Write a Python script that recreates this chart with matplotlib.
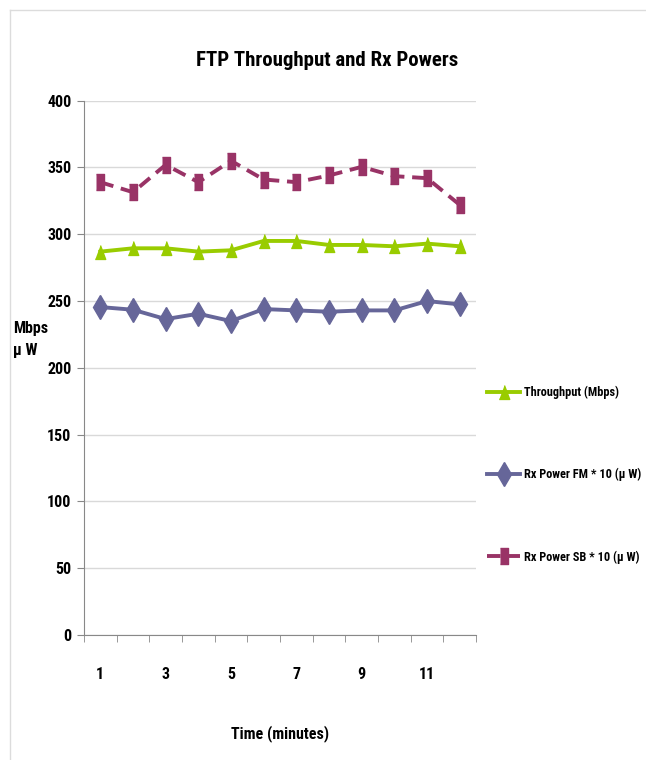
import os
import matplotlib
matplotlib.use("Agg")
import matplotlib.pyplot as plt
from matplotlib import font_manager as fm
from matplotlib.ticker import FixedLocator, NullFormatter
from matplotlib.lines import Line2D

# prefer the narrowest bold font that is installed
prefs = ['LiberationSansNarrow-Bold.', 'NotoSans-ExtraCondensedBold.', 'NotoSans-CondensedBold.',
         'RobotoCondensed-Bold.', 'OpenSans-CondBold.', 'OpenSans_Condensed-Bold.',
         'DejaVuSansCondensed-Bold.']
files = [f.fname for f in fm.fontManager.ttflist]
chosen = None
for p in prefs:
    hit = [f for f in files if os.path.basename(f).startswith(p)]
    if hit:
        chosen = hit[0]
        break
if chosen:
    fp = fm.FontProperties(fname=chosen)
else:
    fp = fm.FontProperties(family='DejaVu Sans', weight='bold', stretch='condensed')

def F(size):
    p = fp.copy()
    p.set_size(size)
    return p

minutes = [1, 2, 3, 4, 5, 6, 7, 8, 9, 10, 11, 12]
throughput = [287, 289.5, 289.5, 287, 288, 295, 295, 292, 292, 291, 293, 291]
rx_fm = [245.5, 243.5, 236.5, 240.5, 235, 244, 243, 242, 243, 243, 250, 247.5]
rx_sb = [339, 331.5, 352, 339, 355, 341, 339, 344, 350.5, 343.5, 342, 322]
xtick_labels = ['1', '3', '5', '7', '9', '11']
ytick_values = [0, 50, 100, 150, 200, 250, 300, 350, 400]

green = '#99CC00'
blue = '#666699'
maroon = '#993366'

tri = [(-0.75, -1), (0.75, -1), (0, 1)]
rect = [(-0.5, -1), (0.5, -1), (0.5, 1), (-0.5, 1)]

fig = plt.figure(figsize=(6.46, 7.6), dpi=100)
# chart-area border (top and left edges visible)
bx, by = 9.5 / 646, 1 - 9.5 / 760
fig.add_artist(Line2D([bx, 1], [by, by], transform=fig.transFigure, color='#dcdcdc', lw=1))
fig.add_artist(Line2D([bx, bx], [0, by], transform=fig.transFigure, color='#dcdcdc', lw=1))

ax = fig.add_axes([0.130, 0.1645, 0.607, 0.703])

ax.plot(minutes, throughput, color=green, lw=2.8, marker=tri, markersize=10,
        label='Throughput (Mbps)')
ax.plot(minutes, rx_fm, color=blue, lw=2.8, marker='d', markersize=12.5,
        label='Rx Power FM * 10 (\u00b5 W)')
ax.plot(minutes, rx_sb, color=maroon, lw=2.8, ls=(0, (3.5, 2)), marker=rect, markersize=11.5,
        label='Rx Power SB * 10 (\u00b5 W)')

ax.set_xlim(0.5, 12.5)
ax.set_ylim(0, 400)
ax.set_yticks(ytick_values)
ax.set_yticklabels([str(v) for v in ytick_values], fontproperties=F(11.5))
ax.set_xticks([1, 3, 5, 7, 9, 11])
ax.set_xticklabels(xtick_labels, fontproperties=F(11.5))
ax.tick_params(axis='x', which='major', length=0, pad=23)
ax.xaxis.set_minor_locator(FixedLocator([x + 0.5 for x in range(0, 13)]))
ax.xaxis.set_minor_formatter(NullFormatter())
ax.tick_params(axis='x', which='minor', length=5, color='#888888')
ax.tick_params(axis='y', length=5, color='#888888', pad=4)
ax.grid(axis='y', color='#d9d9d9', lw=1)
ax.set_axisbelow(True)
for s in ['top', 'right']:
    ax.spines[s].set_visible(False)
for s in ['left', 'bottom']:
    ax.spines[s].set_color('#888888')

fig.text(0.507, 0.920, 'FTP Throughput and Rx Powers', ha='center', va='center',
         fontproperties=F(15))
fig.text(0.020, 0.553, 'Mbps\n\u00b5 W', ha='left', va='center', fontproperties=F(11.5),
         linespacing=1.6)
fig.text(0.433, 0.035, 'Time (minutes)', ha='center', va='center', fontproperties=F(11.5))

leg = ax.legend(loc='center left', bbox_to_anchor=(1.028, 0.30), frameon=False,
                borderaxespad=0, borderpad=0,
                labelspacing=5.65, handlelength=2.7, handletextpad=0.3,
                prop=F(8.8))

fig.savefig('out.png', dpi=100)
